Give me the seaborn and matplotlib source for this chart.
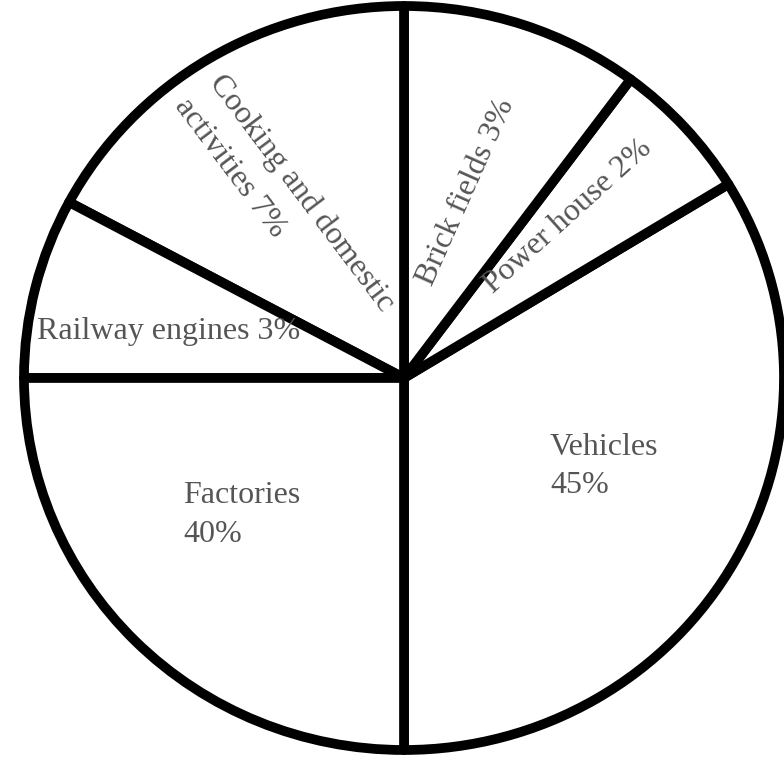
import matplotlib.pyplot as plt
import seaborn as sns

# sources of air pollution (label percentages) and the wedge sizes as drawn (degrees)
sources = ['Vehicles', 'Power house', 'Brick fields', 'Cooking and domestic activities',
           'Railway engines', 'Factories']
percents = [45, 2, 3, 7, 3, 40]
drawn_deg = [121.4, 22.0, 36.6, 61.8, 28.2, 90.0]

sns.set_theme(style='white')
plt.rcParams['font.family'] = ['Liberation Serif', 'DejaVu Serif']

W, H = 784, 766
fig = plt.figure(figsize=(W / 100, H / 100), dpi=100)
ax = fig.add_axes([0, 0, 1, 1])

# slightly squashed circle, like the scan
rx, ry = 380, 372
ydata = H * rx / ry
cx, cy = 404, 378

ax.pie(drawn_deg, startangle=270, counterclock=True, radius=rx,
       center=(cx, (H - cy) * ydata / H),
       colors=['white'] * len(drawn_deg),
       wedgeprops=dict(edgecolor='black', linewidth=7, joinstyle='round'))
ax.set_aspect('auto')
ax.set_xlim(0, W)
ax.set_ylim(0, ydata)
ax.axis('off')

txt = dict(color='#555555', fontsize=23, transform=ax.transAxes)


def put(x, y, s, rot=0, **kw):
    ax.text(x / W, 1 - y / H, s, rotation=rot, rotation_mode='anchor', **txt, **kw)


lab = {s: f'{s} {p}%' for s, p in zip(sources, percents)}
put(37, 339, lab['Railway engines'], ha='left', va='baseline')
put(183, 503, 'Factories', ha='left', va='baseline')
put(183, 542, f"{percents[5]}%", ha='left', va='baseline')
put(550, 455, 'Vehicles', ha='left', va='baseline')
put(550, 493, f"{percents[0]}%", ha='left', va='baseline')
put(466, 192, lab['Brick fields'], rot=66, ha='center', va='center')
put(568, 216, lab['Power house'], rot=42, ha='center', va='center')
put(301, 193, 'Cooking and domestic', rot=-53, ha='center', va='center')
put(230, 168, f"activities {percents[3]}%", rot=-53, ha='center', va='center')

plt.savefig('out.png', dpi=100, facecolor='white')
